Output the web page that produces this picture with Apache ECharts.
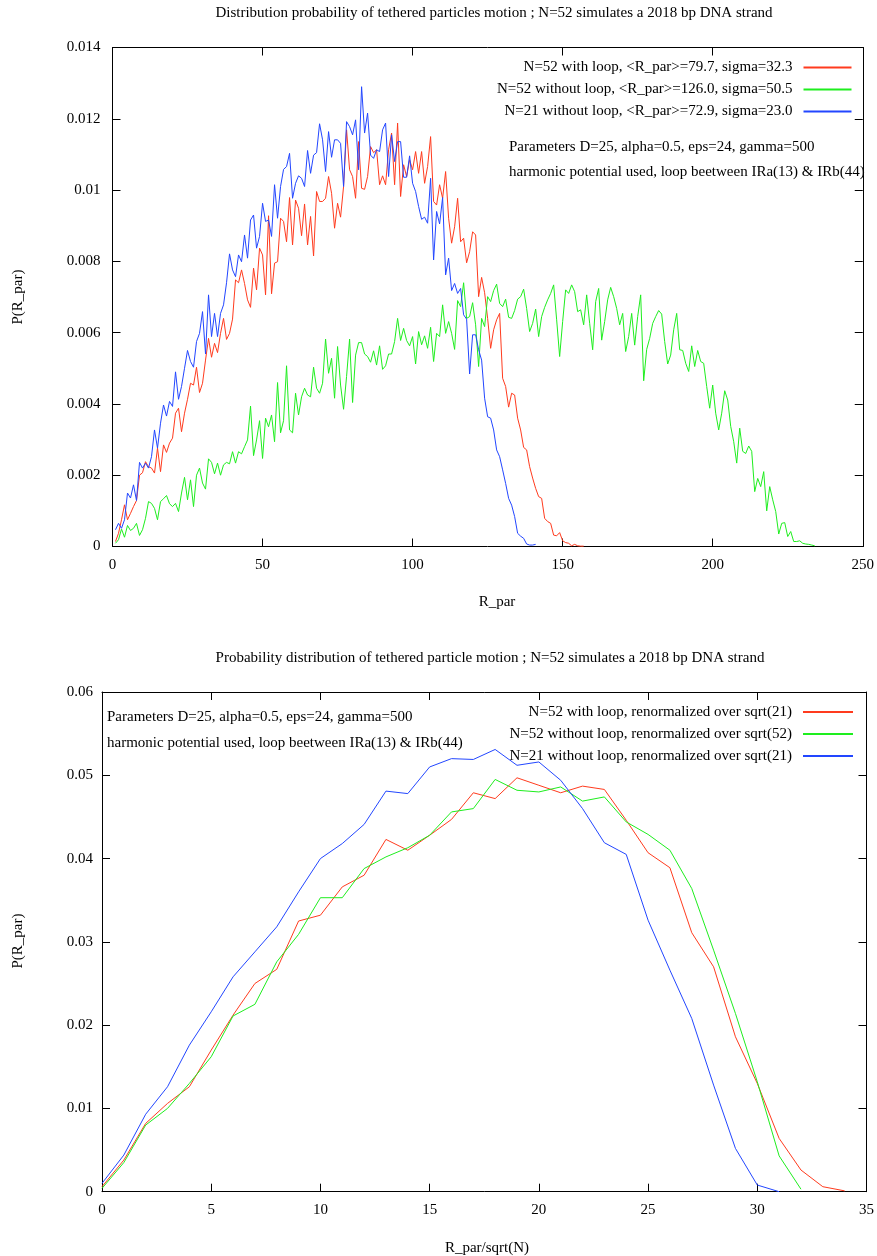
<!DOCTYPE html>
<html>
<head>
<meta charset="utf-8">
<title>Tethered particle motion distributions</title>
<script src="https://cdn.jsdelivr.net/npm/echarts@6/dist/echarts.min.js"></script>
<style>
  html, body { margin: 0; padding: 0; background: #fff; }
  #chart { width: 877px; height: 1256px; }
</style>
</head>
<body>
<div id="chart"></div>
<script>
// ---- Upper panel: P(R_par) histograms, one bin per unit of R_par, first bin at R_par = 1 ----
const TOP_FIRST_BIN = 1;
const TOP_X_TICKS = { min: 0, max: 250, interval: 50 };
const TOP_Y_TICKS = { min: 0, max: 0.014, interval: 0.002 };

const topNames = [
  'N=52 with loop, <R_par>=79.7, sigma=32.3',
  'N=52 without loop, <R_par>=126.0, sigma=50.5',
  'N=21 without loop, <R_par>=72.9, sigma=23.0'
];

const loopN52 = [
  0.00014,0.00037,0.00075,0.00117,0.00075,0.00093,0.00112,0.00129,0.00200,0.00207,
  0.00238,0.00224,0.00220,0.00206,0.00276,0.00210,0.00285,0.00264,0.00290,0.00304,
  0.00374,0.00388,0.00322,0.00374,0.00413,0.00458,0.00453,0.00503,0.00432,0.00458,
  0.00523,0.00584,0.00531,0.00570,0.00544,0.00598,0.00640,0.00581,
  0.00598,0.00638,0.00748,0.00740,0.00776,0.00738,0.00692,0.00671,0.00781,0.00720,
  0.00837,0.00818,0.00706,0.00928,0.00709,0.00795,0.00799,0.00921,0.00912,0.00855,
  0.00979,0.00846,0.00972,0.00949,0.00872,0.00961,0.00846,0.00926,0.00815,0.00996,
  0.00968,0.00968,0.00977,0.01038,0.00991,0.00893,0.00963,0.00924,0.01010,0.01169,
  0.01057,0.01038,0.00977,0.01136,0.01005,0.01002,0.01038,0.01122,0.01105,0.01113,
  0.01015,0.01040,0.01015,0.01113,0.01160,0.01015,0.01188,
  0.00982,0.01071,0.01038,0.01085,0.01057,0.01108,0.01047,0.01108,0.01019,0.01066,
  0.01150,0.00968,0.00958,0.01015,0.00977,0.01052,0.00921,0.00851,0.00897,0.00977,
  0.00855,0.00865,0.00796,0.00827,0.00883,0.00874,0.00701,0.00755,0.00712,0.00640,
  0.00556,0.00608,0.00636,0.00654,0.00472,0.00449,0.00391,0.00430,0.00425,0.00360,
  0.00327,0.00278,0.00271,0.00224,0.00192,0.00163,0.00140,0.00135,0.00079,0.00070,
  0.00065,0.00032,0.00030,0.00039,0.00016,0.00011,0.00009,0.00002,0.00006,0.00002,
  0.00001,0.00001
];

const freeN52 = [
  0.00009,0.00019,0.00049,0.00026,0.00059,0.00045,0.00051,0.00065,0.00031,0.00047,
  0.00079,0.00126,0.00121,0.00107,0.00075,0.00126,0.00134,0.00143,0.00120,0.00112,
  0.00121,0.00098,0.00150,0.00194,0.00131,0.00187,0.00112,0.00200,0.00220,0.00178,
  0.00161,0.00246,0.00236,0.00204,0.00234,0.00200,0.00229,0.00236,0.00232,0.00266,
  0.00234,0.00266,0.00260,0.00280,0.00299,0.00394,0.00255,
  0.00299,0.00353,0.00247,0.00360,0.00336,0.00369,0.00294,0.00460,0.00319,0.00353,
  0.00507,0.00327,0.00319,0.00430,0.00369,0.00420,0.00444,0.00425,0.00420,0.00503,
  0.00444,0.00430,0.00458,0.00582,0.00486,0.00528,0.00416,0.00561,0.00453,0.00385,
  0.00477,0.00582,0.00404,0.00537,0.00572,0.00572,0.00540,0.00533,0.00517,0.00549,
  0.00509,0.00563,0.00497,0.00507,0.00540,0.00540,0.00575,
  0.00640,0.00578,0.00612,0.00578,0.00563,0.00589,0.00512,0.00603,0.00566,0.00591,
  0.00556,0.00615,0.00519,0.00598,0.00589,0.00678,0.00598,0.00631,0.00598,0.00553,
  0.00690,0.00673,0.00740,0.00640,0.00645,0.00684,0.00622,0.00505,0.00640,0.00617,
  0.00701,0.00687,0.00718,0.00736,0.00682,0.00673,0.00694,0.00643,0.00640,0.00662,
  0.00694,0.00701,0.00722,0.00668,0.00603,0.00626,0.00666,0.00589,0.00645,
  0.00671,0.00692,0.00710,0.00734,0.00636,0.00533,0.00631,0.00720,0.00710,0.00734,
  0.00715,0.00659,0.00664,0.00622,0.00706,0.00626,0.00552,0.00687,0.00724,0.00579,
  0.00631,0.00692,0.00727,0.00701,0.00668,0.00622,0.00654,0.00547,0.00589,0.00654,
  0.00565,0.00645,0.00706,0.00465,0.00553,0.00584,0.00626,0.00645,0.00662,0.00652,
  0.00575,0.00512,0.00537,0.00608,0.00654,0.00552,0.00550,0.00514,0.00491,0.00563,
  0.00505,0.00550,0.00519,0.00514,0.00449,0.00388,0.00453,0.00374,
  0.00327,0.00374,0.00437,0.00411,0.00337,0.00294,0.00234,0.00332,0.00267,0.00261,
  0.00282,0.00267,0.00154,0.00191,0.00168,0.00210,0.00100,0.00168,0.00131,0.00098,
  0.00035,0.00065,0.00067,0.00028,0.00042,0.00014,0.00014,0.00016,0.00009,0.00007,
  0.00006,0.00004,0.00002
];

const freeN21 = [
  0.00047,0.00065,0.00051,0.00075,0.00150,0.00136,0.00173,0.00129,0.00236,0.00220,
  0.00234,0.00220,0.00252,0.00327,0.00276,0.00346,0.00397,0.00366,0.00407,0.00393,
  0.00490,0.00413,0.00449,0.00500,0.00550,0.00519,0.00503,0.00575,0.00598,0.00659,
  0.00540,0.00706,0.00589,0.00654,0.00589,0.00654,0.00678,0.00740,
  0.00821,0.00776,0.00757,0.00818,0.00799,0.00874,0.00809,0.00916,0.00930,0.00837,
  0.00870,0.00963,0.00912,0.00916,0.00870,0.01015,0.00921,0.01010,0.01058,0.01066,
  0.01103,0.00977,0.01019,0.01040,0.01033,0.01010,0.01111,0.01047,0.01098,0.01105,
  0.01186,0.01141,0.01052,0.01164,0.01092,0.01141,0.01141,0.01131,0.01010,0.01192,
  0.01178,0.01155,0.01197,0.01057,0.01290,0.01160,0.01216,0.01098,0.01089,0.01113,
  0.01108,0.01169,0.01188,0.01038,0.01155,0.01080,0.01136,
  0.01136,0.01036,0.01036,0.01096,0.01019,0.00996,0.00954,0.00918,0.00924,0.00907,
  0.01033,0.00804,0.00940,0.00905,0.00979,0.00762,0.00809,0.00718,0.00738,0.00710,
  0.00724,0.00650,0.00638,0.00484,0.00594,0.00594,0.00552,0.00523,0.00416,0.00364,
  0.00360,0.00327,0.00271,0.00252,0.00215,0.00177,0.00135,0.00116,0.00084,0.00037,
  0.00029,0.00023,0.00007,0.00004,0.00004,0.00006
];

// ---- Lower panel: same distributions against R_par/sqrt(N), bins at 0, 1, 2, ... ----
const BOTTOM_FIRST_BIN = 0;
const BOTTOM_X_TICKS = { min: 0, max: 35, interval: 5 };
const BOTTOM_Y_TICKS = { min: 0, max: 0.06, interval: 0.01 };

const bottomNames = [
  'N=52 with loop, renormalized over sqrt(21)',
  'N=52 without loop, renormalized over sqrt(52)',
  'N=21 without loop, renormalized over sqrt(21)'
];

const loopN52Scaled = [
  0.0006,0.0038,0.0082,0.0106,0.0126,0.0170,0.0212,0.0250,0.0267,0.0325,
  0.0332,0.0366,0.0380,0.0423,0.0410,0.0428,0.0447,0.0479,0.0472,0.0497,
  0.0488,0.0479,0.0487,0.0483,0.0446,0.0407,0.0389,0.0311,0.0270,0.0186,
  0.0130,0.0064,0.0026,0.0006,0.0001
];
const freeN52Scaled = [
  0.0004,0.0035,0.0080,0.0100,0.0130,0.0162,0.0211,0.0225,0.0276,0.0309,
  0.0353,0.0353,0.0388,0.0402,0.0413,0.0428,0.0456,0.0460,0.0495,0.0482,
  0.0480,0.0486,0.0469,0.0474,0.0444,0.0429,0.0410,0.0364,0.0290,0.0214,
  0.0132,0.0043,0.0003
];
const freeN21Scaled = [
  0.0010,0.0044,0.0093,0.0126,0.0176,0.0216,0.0258,0.0288,0.0318,0.0360,
  0.0400,0.0418,0.0441,0.0481,0.0478,0.0510,0.0520,0.0519,0.0531,0.0512,
  0.0516,0.0494,0.0460,0.0419,0.0405,0.0326,0.0266,0.0208,0.0128,0.0052,
  0.0008,0.0000
];

// ---- Styling ----
const FONT = 'Liberation Serif';
const FONT_SIZE = 15;
const RED = '#ff3b1e';
const GREEN = '#1eee1e';
const BLUE = '#2246ff';

const toPairs = (first, ys) => ys.map((y, i) => [first + i, y]);
const decimals = d => v => String(+v.toFixed(d));

function axisPair(kind, gridIndex, ticks, labelFmt, labelMargin) {
  const base = {
    type: 'value', gridIndex,
    min: ticks.min, max: ticks.max, interval: ticks.interval,
    splitLine: { show: false },
    axisLine: { show: true, onZero: false, lineStyle: { color: '#000', width: 1 } },
    axisTick: { show: true, inside: true, length: 8, lineStyle: { color: '#000', width: 1 } }
  };
  const main = Object.assign({}, base, {
    position: kind === 'x' ? 'bottom' : 'left',
    axisLabel: { show: true, margin: labelMargin, color: '#000', fontFamily: FONT, fontSize: FONT_SIZE, formatter: labelFmt }
  });
  // mirrored border ticks on the opposite side, no labels
  const mirror = Object.assign({}, base, {
    position: kind === 'x' ? 'top' : 'right',
    axisLabel: { show: false }
  });
  return [main, mirror];
}

function lineSeries(name, color, xAxisIndex, yAxisIndex, data) {
  return {
    name, type: 'line', xAxisIndex, yAxisIndex, data,
    symbol: 'none', showSymbol: false, smooth: false,
    lineStyle: { color, width: 1 }, itemStyle: { color },
    emphasis: { disabled: true }, silent: true
  };
}

// key entries: text right-aligned, line sample to its right
function legendBlock(names, right, top, itemWidth) {
  return {
    data: names, orient: 'vertical', right, top, align: 'right',
    itemWidth, itemHeight: 15, itemGap: 7, padding: 0, selectedMode: false,
    lineStyle: { width: 2 },
    itemStyle: { opacity: 0 },
    textStyle: { fontFamily: FONT, fontSize: FONT_SIZE, lineHeight: 15, color: '#000', padding: [0, 6, 0, 0] }
  };
}

const label = (x, y, text, extra) => ({
  type: 'text', x, y, silent: true,
  style: Object.assign({ text, fontFamily: FONT, fontSize: FONT_SIZE, fill: '#000', textVerticalAlign: 'middle' }, extra || {})
});

const chart = echarts.init(document.getElementById('chart'), null, { renderer: 'canvas' });

const option = {
  animation: false,
  backgroundColor: '#fff',
  grid: [
    { left: 112.5, top: 47.5, width: 755.5, height: 499 },
    { left: 102, top: 692, width: 765.5, height: 499.7 }
  ],
  xAxis: [
    ...axisPair('x', 0, TOP_X_TICKS, decimals(0), 11),
    ...axisPair('x', 1, BOTTOM_X_TICKS, decimals(0), 11)
  ],
  yAxis: [
    ...axisPair('y', 0, TOP_Y_TICKS, decimals(3), 12),
    ...axisPair('y', 1, BOTTOM_Y_TICKS, decimals(2), 9)
  ],
  legend: [
    legendBlock(topNames, 24.5, 60, 48),
    legendBlock(bottomNames, 23, 704.5, 50)
  ],
  series: [
    lineSeries(topNames[0], RED, 0, 0, toPairs(TOP_FIRST_BIN, loopN52)),
    lineSeries(topNames[1], GREEN, 0, 0, toPairs(TOP_FIRST_BIN, freeN52)),
    lineSeries(topNames[2], BLUE, 0, 0, toPairs(TOP_FIRST_BIN, freeN21)),
    lineSeries(bottomNames[0], RED, 2, 2, toPairs(BOTTOM_FIRST_BIN, loopN52Scaled)),
    lineSeries(bottomNames[1], GREEN, 2, 2, toPairs(BOTTOM_FIRST_BIN, freeN52Scaled)),
    lineSeries(bottomNames[2], BLUE, 2, 2, toPairs(BOTTOM_FIRST_BIN, freeN21Scaled))
  ],
  graphic: [
    label(494, 13, 'Distribution probability of tethered particles motion ; N=52 simulates a 2018 bp DNA strand', { textAlign: 'center' }),
    label(509, 146.7, 'Parameters D=25, alpha=0.5, eps=24, gamma=500'),
    label(509, 171.7, 'harmonic potential used, loop beetween IRa(13) & IRb(44)'),
    label(497, 602, 'R_par', { textAlign: 'center' }),
    Object.assign(label(18, 297, 'P(R_par)', { textAlign: 'center' }), { rotation: Math.PI / 2 }),

    label(490, 658, 'Probability distribution of tethered particle motion ; N=52 simulates a 2018 bp DNA strand', { textAlign: 'center' }),
    label(107, 717, 'Parameters D=25, alpha=0.5, eps=24, gamma=500'),
    label(107, 743, 'harmonic potential used, loop beetween IRa(13) & IRb(44)'),
    label(487, 1248, 'R_par/sqrt(N)', { textAlign: 'center' }),
    Object.assign(label(18, 941, 'P(R_par)', { textAlign: 'center' }), { rotation: Math.PI / 2 })
  ]
};

chart.setOption(option);
</script>
</body>
</html>
